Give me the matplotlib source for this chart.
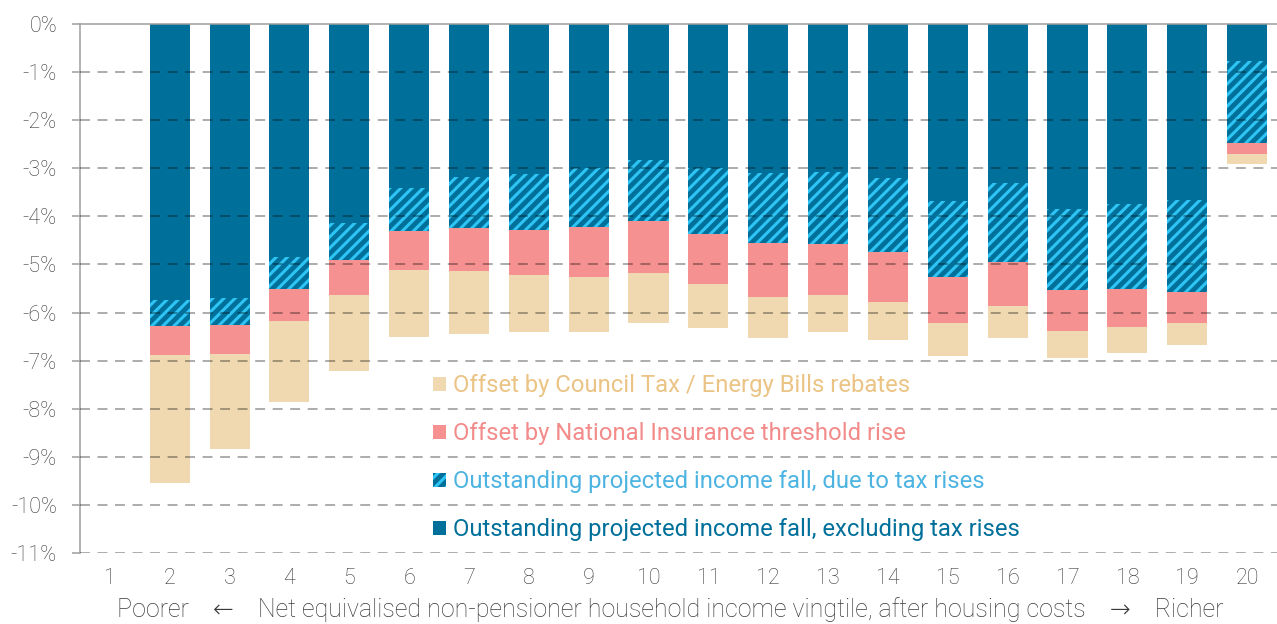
import matplotlib.pyplot as plt
import numpy as np
from matplotlib.patches import Patch

plt.rcParams["font.family"] = ["Roboto", "DejaVu Sans"]
plt.rcParams["hatch.linewidth"] = 2.2

vingtiles = list(range(1, 21))

# percentage change in income, each segment as a (negative) share; vingtile 1 has no bar
excl_tax = [np.nan, -5.74, -5.70, -4.85, -4.14, -3.42, -3.18, -3.12, -3.00, -2.83,
            -3.00, -3.10, -3.07, -3.21, -3.67, -3.31, -3.85, -3.74, -3.66, -0.77]
due_tax = [np.nan, -0.53, -0.56, -0.66, -0.77, -0.88, -1.06, -1.16, -1.22, -1.27,
           -1.36, -1.46, -1.51, -1.54, -1.59, -1.64, -1.69, -1.78, -1.92, -1.70]
ni_offset = [np.nan, -0.61, -0.60, -0.66, -0.73, -0.81, -0.89, -0.94, -1.05, -1.08,
             -1.05, -1.12, -1.05, -1.04, -0.96, -0.91, -0.84, -0.79, -0.64, -0.23]
rebates = [np.nan, -2.66, -1.97, -1.70, -1.57, -1.39, -1.31, -1.18, -1.14, -1.04,
           -0.92, -0.85, -0.77, -0.78, -0.68, -0.67, -0.57, -0.54, -0.45, -0.22]

labels = [
    "Offset by Council Tax / Energy Bills rebates",
    "Offset by National Insurance threshold rise",
    "Outstanding projected income fall, due to tax rises",
    "Outstanding projected income fall, excluding tax rises",
]

DARK = "#00709b"
STRIPE = "#2ec4f3"
PINK = "#f59291"
BEIGE = "#f0d9b0"
GRID = "#9e9e9e"
TXT = "#3a3a3a"

x = np.array(vingtiles)
v1 = np.array(excl_tax)
v2 = np.array(due_tax)
v3 = np.array(ni_offset)
v4 = np.array(rebates)

fig = plt.figure(figsize=(12.77, 6.24), dpi=100)
ax = fig.add_axes([0.0626, 0.1138, 0.9374, 0.8477])

w = 0.67
ax.bar(x, v1, w, color=DARK, linewidth=0, zorder=2)
ax.bar(x, v2, w, bottom=v1, facecolor=DARK, edgecolor=STRIPE, hatch="///",
       linewidth=0, zorder=2)
ax.bar(x, v3, w, bottom=v1 + v2, color=PINK, linewidth=0, zorder=2)
ax.bar(x, v4, w, bottom=v1 + v2 + v3, color=BEIGE, linewidth=0, zorder=2)

ax.set_xlim(0.5, 20.5)
ax.set_ylim(-11, 0)

yt = np.arange(0, -12, -1)
ax.set_yticks(yt)
ax.set_yticklabels([f"{v}%" for v in yt], fontweight="light")
ax.set_xticks(x)
ax.set_xticklabels([str(v) for v in vingtiles], fontweight="light")

for yv in yt[1:]:
    ax.axhline(yv, color="black", alpha=0.35, lw=1.3, dashes=(5.5, 4.2), zorder=3)

for s in ["right", "bottom"]:
    ax.spines[s].set_visible(False)
ax.spines["left"].set_color(GRID)
ax.spines["top"].set_color(GRID)
ax.spines["left"].set_linewidth(1.1)
ax.spines["top"].set_linewidth(1.1)

ax.tick_params(axis="y", length=5.5, width=1.1, color=GRID, pad=11,
               labelsize=15.5, labelcolor=TXT)
ax.tick_params(axis="x", length=0, pad=11, labelsize=15.5, labelcolor=TXT)

ax.set_xlabel("Poorer    \u2190    Net equivalised non-pensioner household income vingtile, after housing costs    \u2192    Richer",
              fontsize=18, fontweight="light", color=TXT)
ax.xaxis.set_label_coords(0.493, -0.083)

handles = [
    Patch(facecolor=BEIGE, linewidth=0),
    Patch(facecolor=PINK, linewidth=0),
    Patch(facecolor=DARK, edgecolor=STRIPE, hatch="///", linewidth=0),
    Patch(facecolor=DARK, linewidth=0),
]
leg = ax.legend(handles, labels, loc="upper left", bbox_to_anchor=(0.295, 0.338),
                frameon=False, fontsize=17.2, handlelength=0.55, handleheight=0.55,
                handletextpad=0.3, labelspacing=1.05, borderpad=0, borderaxespad=0,
                labelcolor=["#ebc384", "#f28b8a", "#4db4e2", "#00709b"])

fig.savefig("out.png", dpi=100)
